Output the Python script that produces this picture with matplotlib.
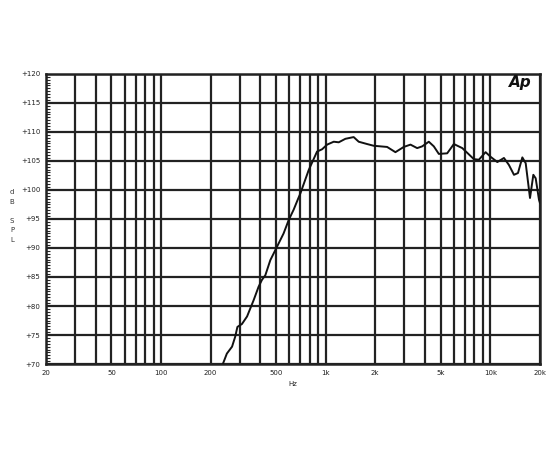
import matplotlib
matplotlib.use("Agg")
import matplotlib.pyplot as plt
from matplotlib.ticker import FixedLocator, MultipleLocator, NullFormatter
import numpy as np

# frequency response (Hz, dB SPL)
freq = [238, 251, 270, 282, 291, 310, 333, 365, 391, 410, 430, 461, 506, 555,
        596, 639, 676, 702, 788, 886, 951, 1020, 1119, 1200, 1317, 1479, 1587,
        1785, 1959, 2361, 2652, 2980, 3274, 3594, 3855, 4230, 4537, 4866, 5470,
        6005, 6756, 7944, 8521, 9360, 10040, 11030, 12100, 12970, 13920, 14720,
        15650, 16400, 17420, 18250, 18860, 19750, 20000]
spl = [70.1, 71.8, 73.0, 74.7, 76.4, 76.9, 78.2, 81.0, 83.3, 84.5, 85.3, 87.9,
       90.2, 92.5, 94.8, 96.6, 98.3, 99.4, 103.4, 106.6, 107.0, 107.8, 108.3,
       108.2, 108.8, 109.1, 108.3, 107.9, 107.6, 107.4, 106.5, 107.4, 107.8,
       107.2, 107.5, 108.3, 107.5, 106.2, 106.3, 107.9, 107.2, 105.3, 105.2,
       106.5, 105.7, 104.8, 105.5, 104.3, 102.6, 102.9, 105.6, 104.6, 98.6,
       102.6, 102.0, 98.3, 97.8]

xticks = [20, 50, 100, 200, 500, 1000, 2000, 5000, 10000, 20000]
xlabels = ["20", "50", "100", "200", "500", "1k", "2k", "5k", "10k", "20k"]
yticks = [70, 75, 80, 85, 90, 95, 100, 105, 110, 115, 120]

gridx = [m * d for d in (10, 100, 1000, 10000) for m in range(1, 10)]
gridx = [g for g in gridx if 20 <= g <= 20000]

fig = plt.figure(figsize=(5.5, 4.5), dpi=100)
ax = fig.add_axes([0.0836, 0.191, 0.898, 0.645])

ax.set_xscale("log")
ax.set_xlim(20, 20000)
ax.set_ylim(70, 120)

for g in gridx:
    ax.axvline(g, color="#222222", lw=1.6, zorder=1)
for y in yticks:
    ax.axhline(y, color="#222222", lw=1.6, zorder=1)

ax.plot(freq, spl, color="#111111", lw=1.4, zorder=3)

ax.xaxis.set_major_locator(FixedLocator(xticks))
ax.xaxis.set_minor_locator(FixedLocator([]))
ax.xaxis.set_minor_formatter(NullFormatter())
ax.set_xticks(xticks)
ax.set_xticklabels(xlabels)
ax.set_yticks(yticks)
ax.set_yticklabels(["+%d" % v for v in yticks])
ax.yaxis.set_minor_locator(MultipleLocator(0.5))
ax.tick_params(axis="x", which="both", length=0, labelsize=5, pad=4, colors="#222222")
ax.tick_params(axis="y", which="major", length=0, labelsize=5, pad=4, colors="#222222")
ax.tick_params(axis="y", which="minor", direction="in", length=3, width=0.8, color="#222222")

for s in ax.spines.values():
    s.set_color("#222222")
    s.set_linewidth(1.8)

ax.set_xlabel("Hz", fontsize=5, labelpad=4, color="#222222")

# stacked y label letters
for ch, ypix in zip(["d", "B", "S", "P", "L"], [192, 202, 221, 230, 240]):
    fig.text(12 / 550, 1 - ypix / 450, ch, fontsize=5, ha="center", va="center",
             color="#333333")

fig.text(520 / 550, 1 - 83 / 450, "Ap", fontsize=11, fontweight="bold",
         style="italic", ha="center", va="center", color="#111111")

fig.savefig("out.png", dpi=100)
